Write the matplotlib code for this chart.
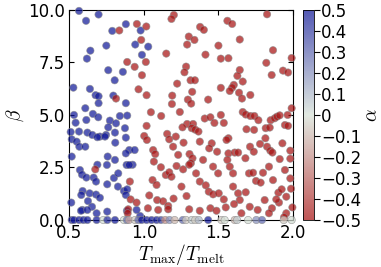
import matplotlib

matplotlib.use("Agg")
import matplotlib.pyplot as plt
from matplotlib.colors import LinearSegmentedColormap

plt.rcParams["mathtext.fontset"] = "cm"
plt.rcParams["font.family"] = "DejaVu Sans"

# ---- data ----
# alpha = +0.5 points (blue), beta > 0
blue_x = [0.565, 0.696, 0.612, 0.879, 0.788, 0.978, 0.942, 1.029, 0.748, 0.641,
          0.987, 0.618, 0.761, 0.859, 0.804, 0.527, 0.638, 0.676, 0.696, 0.795,
          0.696, 0.879, 0.607, 0.658, 0.694, 0.839, 0.888, 0.531, 0.542, 0.614,
          0.772, 0.813, 0.761, 0.509, 0.565, 0.621, 0.654, 0.705, 0.746, 0.739,
          0.806, 0.873, 0.879, 0.516, 0.549, 0.567, 0.607, 0.688, 0.808, 0.902,
          0.938, 0.879, 0.757, 0.516, 0.924, 0.884, 0.902, 0.806, 0.752, 0.688,
          0.571, 0.585, 0.614, 0.663, 0.679, 0.799, 0.828, 0.589, 0.580, 0.636,
          0.679, 0.705, 0.513, 0.587, 0.625, 0.826, 0.866, 0.888, 0.879, 0.754,
          0.578, 0.683, 0.754, 0.886, 0.975, 0.951, 0.652, 0.621]
blue_b = [9.95, 9.78, 9.48, 9.32, 9.00, 9.02, 8.35, 8.25, 8.30, 8.06,
          7.86, 7.68, 7.13, 7.05, 6.65, 6.30, 6.24, 5.94, 5.89, 5.92,
          5.56, 5.56, 5.32, 5.05, 4.89, 4.95, 4.97, 5.00, 4.63, 4.76,
          4.73, 4.60, 4.41, 4.19, 4.21, 4.16, 4.05, 3.97, 4.05, 3.97,
          4.16, 4.37, 3.92, 3.84, 3.73, 3.49, 3.49, 3.94, 3.68, 3.33,
          3.33, 3.17, 3.02, 3.02, 2.63, 2.62, 2.62, 2.86, 2.62, 2.63,
          2.38, 2.16, 2.02, 2.02, 1.83, 2.00, 2.22, 1.38, 1.19, 1.27,
          1.21, 1.06, 0.83, 0.48, 0.90, 1.59, 1.38, 1.46, 1.19, 1.70,
          0.44, 0.32, 0.40, 0.44, 0.19, 0.48, 0.63, 0.48]

# alpha = -0.5 points (red), beta > 0
red_x = [1.201, 1.185, 1.826, 1.560, 1.592, 0.953, 1.016, 1.377, 1.402, 0.835,
         1.301, 1.339, 1.290, 0.982, 1.643, 1.500, 1.866, 1.150, 1.413, 1.516,
         1.567, 1.991, 1.821, 1.933, 1.967, 1.857, 0.888, 1.013, 0.938, 1.283,
         1.272, 0.987, 1.313, 1.342, 1.223, 1.643, 1.627, 1.663, 1.603, 1.592,
         1.576, 1.516, 1.324, 1.190, 0.964, 1.018, 0.813, 1.638, 1.658, 1.295,
         1.317, 1.431, 1.714, 1.188, 1.241, 1.116, 1.047, 1.663, 1.683, 1.714,
         1.741, 1.768, 1.850, 1.877, 1.893, 1.911, 1.964, 1.991, 1.408, 1.446,
         1.516, 1.290, 1.330, 1.259, 1.321, 1.344, 1.473, 1.536, 1.817, 1.844,
         1.946, 1.967, 1.688, 1.739, 1.018, 1.002, 1.156, 1.170, 1.196, 1.214,
         1.266, 1.366, 1.375, 1.455, 1.438, 1.491, 1.020, 1.062, 1.076, 1.067,
         1.114, 1.306, 1.326, 1.315, 1.567, 1.554, 1.567, 1.560, 1.609, 1.632,
         1.681, 1.712, 1.737, 1.779, 1.815, 1.826, 1.848, 1.862, 1.929, 1.982,
         1.982, 1.911, 0.674, 0.906, 0.911, 0.951, 1.036, 1.089, 1.129, 1.163,
         1.163, 1.199, 1.147, 1.170, 1.185, 1.219, 1.263, 1.304, 1.350, 1.375,
         1.415, 1.435, 1.464, 1.502, 1.536, 1.598, 1.632, 1.643, 1.683, 1.705,
         1.732, 1.752, 1.783, 1.799, 1.839, 1.866, 1.902, 1.924, 1.946, 1.982,
         1.987, 1.955, 1.906, 1.859, 1.810, 1.763, 1.710, 1.605, 0.895, 0.891,
         1.027, 1.096, 1.304, 1.375, 1.446, 1.487, 1.549, 1.654, 1.839, 1.955,
         1.996, 1.940, 1.286, 1.252, 1.058, 1.085, 1.888, 1.397, 1.464, 1.498,
         1.230, 1.598, 1.576]
red_b = [9.76, 9.57, 9.79, 9.48, 9.33, 9.33, 9.21, 9.19, 9.05, 9.02,
         8.73, 8.57, 8.35, 8.57, 8.59, 8.30, 8.08, 7.92, 7.87, 7.68,
         7.70, 7.71, 7.48, 7.11, 7.02, 6.90, 7.52, 7.52, 7.29, 7.30,
         7.03, 6.89, 6.65, 6.65, 6.49, 7.14, 6.86, 6.59, 6.43, 6.30,
         6.14, 6.29, 6.10, 5.92, 6.22, 5.94, 5.78, 6.06, 5.78, 5.73,
         5.54, 5.73, 5.95, 5.52, 5.14, 4.95, 5.13, 5.14, 5.02, 4.95,
         4.95, 4.75, 4.75, 4.84, 4.92, 4.98, 5.00, 5.32, 4.83, 4.89,
         5.00, 4.57, 4.57, 4.41, 4.37, 4.30, 4.62, 4.62, 4.37, 4.40,
         4.52, 4.48, 4.32, 4.29, 4.48, 4.00, 4.10, 3.84, 3.49, 3.97,
         3.68, 4.21, 3.73, 3.65, 3.41, 3.25, 3.81, 3.33, 3.14, 2.78,
         2.51, 3.14, 2.94, 2.70, 3.89, 3.81, 3.17, 2.86, 3.21, 3.21,
         2.94, 3.49, 3.25, 3.62, 3.89, 3.49, 3.30, 3.21, 3.65, 3.30,
         2.92, 2.90, 2.41, 1.83, 0.98, 0.83, 1.17, 0.95, 0.89, 0.67,
         0.51, 1.02, 2.14, 2.27, 2.06, 2.57, 2.41, 2.63, 2.22, 1.83,
         1.65, 1.35, 1.22, 1.27, 0.98, 1.59, 1.27, 0.95, 1.32, 2.22,
         2.25, 1.86, 1.78, 2.25, 2.54, 1.90, 1.30, 1.46, 2.38, 1.98,
         1.49, 1.11, 0.83, 0.56, 0.95, 0.48, 0.63, 0.76, 0.51, 0.32,
         0.56, 0.48, 0.51, 0.44, 0.56, 0.44, 0.60, 0.32, 0.32, 0.32,
         0.60, 0.13, 1.14, 1.59, 1.90, 1.67, 0.98, 2.86, 2.54, 2.22,
         3.10, 2.22, 2.54]

# beta = 0 row, mixed alpha
zero_x = [0.516, 0.531, 0.565, 0.594, 0.621, 0.683, 0.728, 0.755, 0.806, 0.866,
          0.886, 0.900, 0.940, 0.963, 0.985, 1.018, 1.051, 1.085, 1.114, 1.143,
          1.172, 1.206, 1.261, 1.283, 1.321, 1.344, 1.368, 1.431, 1.520, 1.542,
          1.609, 1.625, 1.699, 1.754, 1.792, 1.938, 1.991]
zero_a = [0.5, 0.5, 0.5, 0.5, 0.5, 0.5, 0.0, 0.45, 0.5, 0.0,
          0.3, -0.15, -0.05, 0.3, 0.5, 0.5, 0.5, 0.5, 0.4, -0.2,
          0.2, -0.1, 0.3, -0.05, 0.05, -0.05, 0.1, 0.5, -0.05, 0.0,
          -0.1, 0.05, 0.0, 0.2, 0.3, -0.05, 0.0]

cbar_ticks = [0.5, 0.4, 0.3, 0.2, 0.1, 0.0, -0.1, -0.2, -0.3, -0.4, -0.5]
cbar_labels = ["0.5", "0.4", "0.3", "0.2", "0.1", "0",
               "\u22120.1", "\u22120.2", "\u22120.3", "\u22120.4", "\u22120.5"]

xs = blue_x + red_x + zero_x
bs = blue_b + red_b + [0.0] * len(zero_x)
al = [0.5] * len(blue_x) + [-0.5] * len(red_x) + zero_a

cmap = LinearSegmentedColormap.from_list(
    "rwb", [(0.66, 0.08, 0.08), (0.84, 0.88, 0.84), (0.07, 0.10, 0.60)])

fig = plt.figure(figsize=(3.81, 2.67), dpi=100)
ax = fig.add_axes([0.182, 0.176, 0.587, 0.787])
cax = fig.add_axes([0.794, 0.176, 0.030, 0.787])

sc = ax.scatter(xs, bs, c=al, cmap=cmap, vmin=-0.5, vmax=0.5, s=28,
                alpha=0.72, edgecolors="0.55", linewidths=0.5, clip_on=False,
                zorder=3)

ax.set_xlim(0.5, 2.0)
ax.set_ylim(0, 10)
ax.set_xticks([0.5, 1.0, 1.5, 2.0])
ax.set_yticks([0, 2.5, 5.0, 7.5, 10.0])
ax.tick_params(direction="in", top=True, right=True, labelsize=12, pad=3)
ax.set_xlabel(r"$T_{\rm max}/T_{\rm melt}$", fontsize=14, labelpad=0)
ax.set_ylabel(r"$\beta$", fontsize=14, labelpad=2)

cb = fig.colorbar(sc, cax=cax)
cb.set_ticks(cbar_ticks)
cb.set_ticklabels(cbar_labels)
cb.ax.tick_params(labelsize=12, length=4, pad=1)
cb.outline.set_linewidth(0.6)
cb.set_label(r"$\alpha$", fontsize=14, labelpad=1)

fig.savefig("out.png", dpi=100)
